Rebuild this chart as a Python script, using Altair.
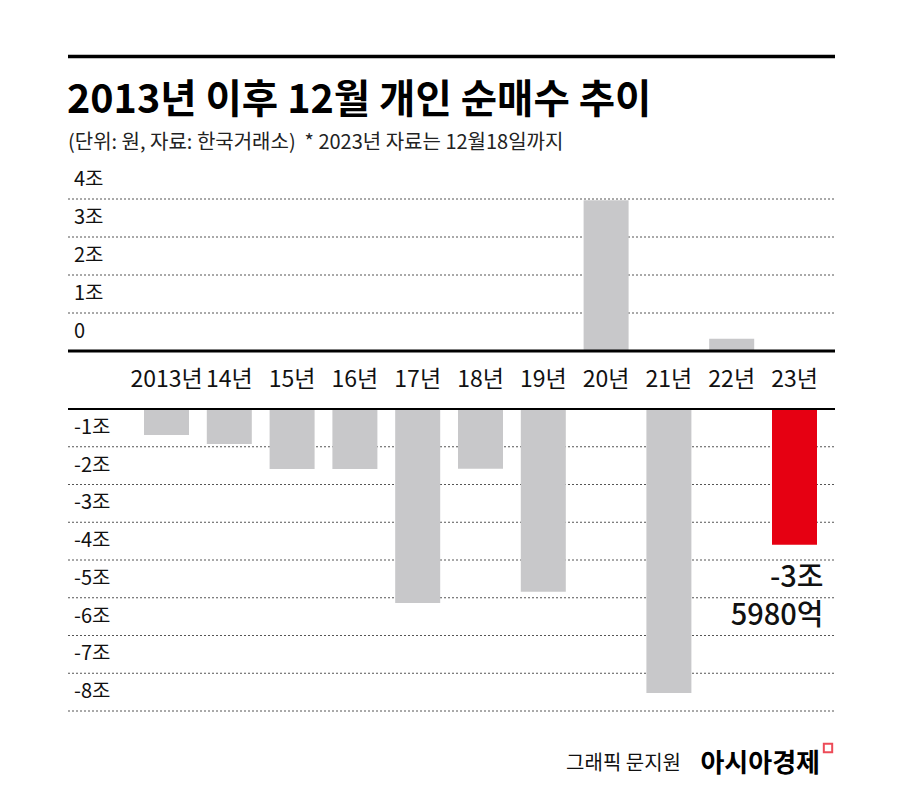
import altair as alt
import pandas as pd

FONT = "Noto Sans CJK KR"

# ---- data ----
years = ["2013년", "14년", "15년", "16년", "17년", "18년", "19년", "20년", "21년", "22년", "23년"]
values = [-0.69, -0.93, -1.59, -1.59, -5.14, -1.58, -4.84, 3.97, -7.52, 0.32, -3.598]
highlight = ["n", "n", "n", "n", "n", "n", "n", "n", "n", "n", "y"]

top_ticks = [0, 1, 2, 3, 4]
top_tick_labels = ["0", "1조", "2조", "3조", "4조"]
bottom_ticks = [-1, -2, -3, -4, -5, -6, -7, -8]
bottom_tick_labels = ["-1조", "-2조", "-3조", "-4조", "-5조", "-6조", "-7조", "-8조"]

title_text = "2013년 이후 12월 개인 순매수 추이"
subtitle_text = "(단위: 원, 자료: 한국거래소)\u00a0\u00a0* 2023년 자료는 12월18일까지"
annot_line1 = "-3조"
annot_line2 = "5980억"
credit_text = "그래픽 문지원"
brand_text = "아시아경제"

df = pd.DataFrame({"year": years, "value": values, "hl": highlight})
top_df = pd.DataFrame({"v": top_ticks, "label": top_tick_labels})
bot_df = pd.DataFrame({"v": bottom_ticks, "label": bottom_tick_labels})
one = pd.DataFrame({"a": [0]})

GRAY = "#c8c8ca"
RED = "#e60012"

x_enc = alt.X("year:N", sort=years, axis=None,
              scale=alt.Scale(domain=years, range=[144, 817], paddingInner=0.2834, paddingOuter=0))
ytop = alt.Scale(domain=[0, 4.5], range=[351, 180], nice=False, zero=False)
ybot = alt.Scale(domain=[-8, 0], range=[711, 409], nice=False, zero=False)

# gridlines
grid_top = alt.Chart(top_df).transform_filter("datum.v > 0").mark_rule(
    color="#555", strokeDash=[2, 2], strokeWidth=1
).encode(y=alt.Y("v:Q", scale=ytop, axis=None), x=alt.value(68), x2=alt.value(835))

grid_bot = alt.Chart(bot_df).mark_rule(
    color="#555", strokeDash=[2, 2], strokeWidth=1
).encode(y=alt.Y("v:Q", scale=ybot, axis=None), x=alt.value(68), x2=alt.value(835))

# bars
bars_top = alt.Chart(df).transform_filter("datum.value > 0").mark_bar(color=GRAY).encode(
    x=x_enc, y=alt.Y("value:Q", scale=ytop, axis=None)
)
bars_bot = alt.Chart(df).transform_filter("datum.value < 0").mark_bar().encode(
    x=x_enc, y=alt.Y("value:Q", scale=ybot, axis=None),
    color=alt.Color("hl:N", scale=alt.Scale(domain=["n", "y"], range=[GRAY, RED]), legend=None),
)

# baselines
base_top = alt.Chart(top_df).transform_filter("datum.v == 0").mark_rule(color="#000", strokeWidth=3).encode(
    y=alt.Y("v:Q", scale=ytop, axis=None), x=alt.value(68), x2=alt.value(835))
base_bot = alt.Chart(pd.DataFrame({"v": [0]})).mark_rule(color="#000", strokeWidth=2).encode(
    y=alt.Y("v:Q", scale=ybot, axis=None), x=alt.value(68), x2=alt.value(835))

# y tick labels (sit above their gridline)
lab_top = alt.Chart(top_df).transform_calculate(p="datum.v + 0.5").mark_text(
    align="left", baseline="middle", font=FONT, fontSize=20, color="#111"
).encode(y=alt.Y("p:Q", scale=ytop, axis=None), x=alt.value(74), text="label:N")
lab_bot = alt.Chart(bot_df).transform_calculate(p="datum.v + 0.5").mark_text(
    align="left", baseline="middle", font=FONT, fontSize=20, color="#111"
).encode(y=alt.Y("p:Q", scale=ybot, axis=None), x=alt.value(74), text="label:N")

# x labels
xlab = alt.Chart(df).mark_text(baseline="middle", font=FONT, fontSize=23, color="#111").encode(
    x=x_enc, y=alt.value(380), text="year:N")

# annotation for 2023
annot_base = alt.Chart(df).transform_filter("datum.hl == 'y'")
annot1 = annot_base.mark_text(align="right", baseline="middle", font=FONT, fontSize=29, fontWeight=500,
                              color="#111", dx=29, dy=33).encode(
    x=x_enc, y=alt.Y("value:Q", scale=ybot, axis=None), text=alt.value(annot_line1))
annot2 = annot_base.mark_text(align="right", baseline="middle", font=FONT, fontSize=29, fontWeight=500,
                              color="#111", dx=29, dy=71).encode(
    x=x_enc, y=alt.Y("value:Q", scale=ybot, axis=None), text=alt.value(annot_line2))

# header / footer
top_rule = alt.Chart(one).mark_rule(color="#000", strokeWidth=3.5).encode(
    x=alt.value(68), x2=alt.value(835), y=alt.value(56.5))
title = alt.Chart(one).mark_text(align="left", baseline="alphabetic", font=FONT, fontSize=39.5,
                                 fontWeight="bold", color="#000").encode(
    x=alt.value(67), y=alt.value(113), text=alt.value(title_text))
subtitle = alt.Chart(one).mark_text(align="left", baseline="alphabetic", font=FONT, fontSize=20,
                                    color="#222").encode(
    x=alt.value(68), y=alt.value(149), text=alt.value(subtitle_text))
credit = alt.Chart(one).mark_text(align="right", baseline="alphabetic", font=FONT, fontSize=20,
                                  color="#111").encode(
    x=alt.value(681), y=alt.value(770), text=alt.value(credit_text))
brand = alt.Chart(one).mark_text(align="right", baseline="alphabetic", font=FONT, fontSize=26,
                                 fontWeight="bold", color="#000").encode(
    x=alt.value(820), y=alt.value(772), text=alt.value(brand_text))
logo = alt.Chart(one).mark_square(filled=False, stroke=RED, strokeWidth=2, size=70).encode(
    x=alt.value(828), y=alt.value(748))

chart = alt.layer(
    grid_top, grid_bot, bars_top, bars_bot, base_top, base_bot,
    lab_top, lab_bot, xlab, annot1, annot2, top_rule, title, subtitle, credit, brand, logo
).resolve_scale(y="independent").properties(
    width=900, height=789, padding=0,
    autosize=alt.AutoSizeParams(type="none"), background="white"
).configure_view(stroke=None)

chart.save("out.html", embed_options={"renderer": "svg", "actions": False})
